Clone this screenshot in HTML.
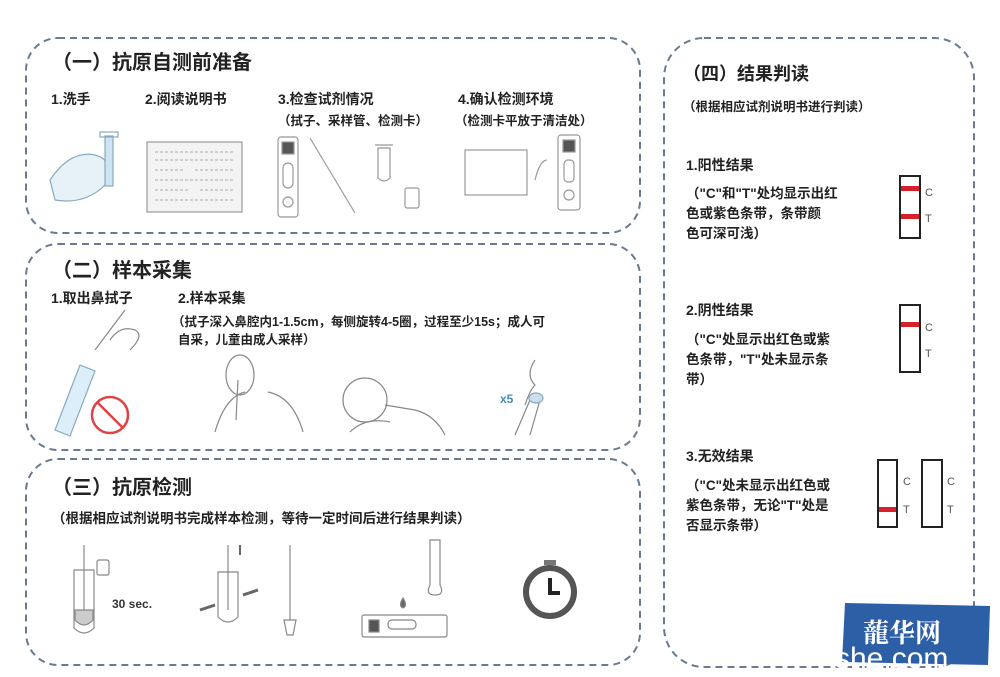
<!DOCTYPE html>
<html><head><meta charset="utf-8">
<style>
html,body{margin:0;padding:0;background:#fff;}
body{width:1000px;height:677px;position:relative;overflow:hidden;font-family:"Liberation Sans","Noto Sans CJK SC",sans-serif;color:#222;}
.t{position:absolute;white-space:nowrap;font-weight:bold;}
.h{font-size:20px;}
.s{font-size:14px;}
.x{font-size:12.5px;}
svg{position:absolute;left:0;top:0;}
</style></head><body>
<svg width="1000" height="677" viewBox="0 0 1000 677">
<g fill="none" stroke="#6a7a90" stroke-width="2" stroke-dasharray="7,5">
<rect x="26" y="38" width="614" height="195" rx="32"/>
<rect x="26" y="244" width="614" height="206" rx="32"/>
<rect x="26" y="459" width="614" height="206" rx="32"/>
<rect x="664" y="38" width="310" height="629" rx="40"/>
</g>
<g fill="none" stroke="#999" stroke-width="1.2">
<path d="M50 180 q20 -30 45 -25 q20 5 10 30 q-20 20 -50 15z" stroke="#8ab" fill="#e6f1f8"/>
<rect x="105" y="136" width="8" height="50" fill="#cfe4f3" stroke="#8ab"/>
<rect x="100" y="132" width="18" height="5" stroke="#8ab"/>
<rect x="147" y="142" width="95" height="70" fill="#f3f3f3"/>
<path d="M155 152h80M155 160h80M155 170h30M195 170h40M155 180h80M155 190h35M200 190h35M155 200h80" stroke="#bbb" stroke-dasharray="3,2"/>
<rect x="278" y="137" width="20" height="80" rx="3"/>
<rect x="282" y="142" width="12" height="12" fill="#555"/>
<rect x="283" y="163" width="10" height="25" rx="5"/>
<circle cx="288" cy="202" r="5"/>
<line x1="310" y1="138" x2="355" y2="213"/>
<path d="M375 145h18M378 148h12v30q-6 6 -12 0z"/>
<rect x="405" y="188" width="14" height="20" rx="2"/>
<rect x="465" y="150" width="62" height="45"/>
<rect x="558" y="135" width="22" height="75" rx="3"/>
<rect x="563" y="140" width="12" height="12" fill="#555"/>
<rect x="564" y="160" width="10" height="22" rx="4"/>
<circle cx="569" cy="195" r="5"/>
<path d="M535 180 q5 -20 12 -20" />
</g>
<g fill="none" stroke="#888" stroke-width="1.2">
<path d="M95 350 l30 -40 M110 340 q10 -15 25 -10 q10 5 -5 20" />
<path d="M55 430 l25 -65 l15 6 l-25 65z" fill="#dceefa" stroke="#8ab"/>
<circle cx="110" cy="415" r="18" stroke="#d44" stroke-width="2.5"/>
<line x1="97" y1="402" x2="123" y2="428" stroke="#d44" stroke-width="2.5"/>
<path d="M215 432 q10 -35 30 -40 M268 392 q25 5 35 40" />
<ellipse cx="240" cy="375" rx="14" ry="20"/>
<line x1="238" y1="380" x2="236" y2="420"/>
<circle cx="365" cy="400" r="22"/>
<path d="M350 432 q15 -15 40 -10 M385 405 l30 5 q20 5 30 25"/>
<text x="500" y="403" font-size="12" fill="#4a8ab8" stroke="none" font-weight="bold">x5</text>
<path d="M535 360 q-10 15 0 25 q-5 5 -10 20 M530 400 l-15 35 M540 400 l-10 35"/>
<ellipse cx="536" cy="398" rx="7" ry="5" fill="#cde" stroke="#8ab"/>
</g>
<g fill="none" stroke="#888" stroke-width="1.2">
<path d="M74 570h20v58q-10 10 -20 0z"/>
<line x1="84" y1="545" x2="84" y2="620"/>
<rect x="97" y="560" width="12" height="15" rx="2"/>
<path d="M75 620q9 10 18 0v-10h-18z" fill="#ccc"/>
<text x="112" y="608" font-size="12" fill="#333" stroke="none" font-weight="bold">30 sec.</text>
<path d="M218 572h20v45q-10 10 -20 0z"/>
<line x1="228" y1="545" x2="228" y2="610"/>
<line x1="240" y1="545" x2="240" y2="555" stroke="#333" stroke-width="1.5"/>
<path d="M200 610l15 -5 M258 590l-15 5" stroke="#666" stroke-width="3"/>
<line x1="290" y1="545" x2="290" y2="620"/>
<path d="M284 620h12l-3 15h-6z"/>
<path d="M430 540v45q-5 10 5 10q10 0 5 -10v-45z"/>
<path d="M403 598q-5 8 0 10q5 -2 0 -10z" fill="#666"/>
<rect x="362" y="615" width="85" height="22" rx="2"/>
<rect x="369" y="620" width="10" height="12" fill="#555"/>
<rect x="388" y="620" width="28" height="9" rx="4"/>
</g>
<circle cx="550" cy="592" r="24" fill="none" stroke="#555" stroke-width="6"/>
<rect x="544" y="560" width="12" height="5" fill="#777"/>
<path d="M550 578v15h10" fill="none" stroke="#222" stroke-width="4"/>
<g fill="none" stroke="#222" stroke-width="2">
<rect x="900" y="176" width="20" height="62"/>
<rect x="900" y="305" width="20" height="67"/>
<rect x="878" y="460" width="19" height="67"/>
<rect x="922" y="460" width="20" height="67"/>
</g>
<g fill="#d8202a">
<rect x="901" y="186" width="18" height="5"/>
<rect x="901" y="214" width="18" height="5"/>
<rect x="901" y="322" width="18" height="5"/>
<rect x="879" y="507" width="17" height="5"/>
</g>
<g font-size="11" fill="#555" font-family="Liberation Sans,sans-serif">
<text x="925" y="196">C</text><text x="925" y="222">T</text>
<text x="925" y="331">C</text><text x="925" y="357">T</text>
<text x="903" y="485">C</text><text x="903" y="513">T</text>
<text x="947" y="485">C</text><text x="947" y="513">T</text>
</g>
<path d="M845 603 L990 606 L988 665 L842 662z" fill="#2d5fa6"/>
<text x="863" y="642" font-size="26" fill="#fff" font-weight="bold" font-family="Liberation Serif,Noto Serif CJK SC,serif">蘢华网</text>
<text x="835" y="668" font-size="30" fill="#fff" font-family="Liberation Sans,sans-serif">she.com</text>
</svg>

<div class="t h" style="left:52px;top:46px;">（一）抗原自测前准备</div>
<div class="t s" style="left:51px;top:89px;">1.洗手</div>
<div class="t s" style="left:145px;top:89px;">2.阅读说明书</div>
<div class="t s" style="left:278px;top:89px;">3.检查试剂情况</div>
<div class="t s" style="left:458px;top:89px;">4.确认检测环境</div>
<div class="t x" style="left:278px;top:110px;">（拭子、采样管、检测卡）</div>
<div class="t x" style="left:455px;top:110px;">（检测卡平放于清洁处）</div>

<div class="t h" style="left:52px;top:254px;">（二）样本采集</div>
<div class="t s" style="left:51px;top:288px;">1.取出鼻拭子</div>
<div class="t s" style="left:178px;top:288px;">2.样本采集</div>
<div class="t x" style="left:172px;top:311px;">（拭子深入鼻腔内1-1.5cm，每侧旋转4-5圈，过程至少15s；成人可</div>
<div class="t x" style="left:178px;top:329px;">自采，儿童由成人采样）</div>

<div class="t h" style="left:52px;top:471px;">（三）抗原检测</div>
<div class="t x" style="left:52px;top:507px;font-size:13.5px;">（根据相应试剂说明书完成样本检测，等待一定时间后进行结果判读）</div>

<div class="t h" style="left:683px;top:60px;font-size:18px;">（四）结果判读</div>
<div class="t x" style="left:683px;top:96px;">（根据相应试剂说明书进行判读）</div>
<div class="t s" style="left:686px;top:155px;">1.阳性结果</div>
<div class="t x" style="left:686px;top:184px;line-height:20px;white-space:normal;width:200px;font-size:13.5px;">（"C"和"T"处均显示出红<br>色或紫色条带，条带颜<br>色可深可浅）</div>
<div class="t s" style="left:686px;top:300px;">2.阴性结果</div>
<div class="t x" style="left:686px;top:330px;line-height:20px;white-space:normal;width:200px;font-size:13.5px;">（"C"处显示出红色或紫<br>色条带，"T"处未显示条<br>带）</div>
<div class="t s" style="left:686px;top:446px;">3.无效结果</div>
<div class="t x" style="left:686px;top:476px;line-height:20px;white-space:normal;width:200px;font-size:13.5px;">（"C"处未显示出红色或<br>紫色条带，无论"T"处是<br>否显示条带）</div>
</body></html>
